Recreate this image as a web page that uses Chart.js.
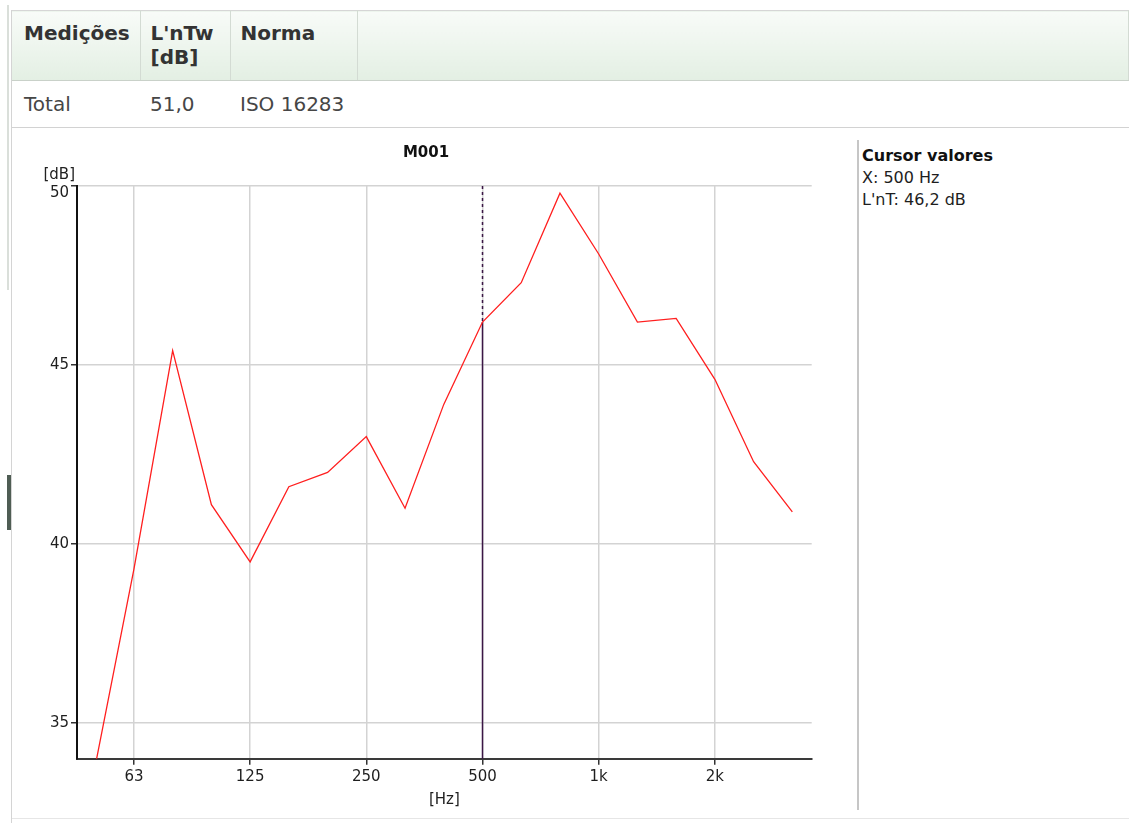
<!DOCTYPE html>
<html>
<head>
<meta charset="utf-8">
<title>M001</title>
<script src="https://cdn.jsdelivr.net/npm/chart.js@4/dist/chart.umd.min.js"></script>
<style>
  html, body { margin: 0; padding: 0; background: #fff; width: 1129px; height: 823px; overflow: hidden;
               font-family: "DejaVu Sans", Verdana, sans-serif; }
  .splitter { position: absolute; left: 7px; top: 5px; width: 2px; height: 285px; background: #dadfda; }
  .grip { position: absolute; left: 7px; top: 475px; width: 4px; height: 55px; background: #4f5d54; }
  .frame { position: absolute; left: 11px; top: 10px; width: 1px; height: 813px; background: #d4d4d4; }
  .bottom-rule { position: absolute; left: 12px; top: 818px; width: 1117px; height: 1px; background: #e6e6e6; }
  table { position: absolute; left: 12px; top: 10px; width: 1117px; border-collapse: collapse; table-layout: fixed; }
  th, td { text-align: left; vertical-align: top; font-size: 20px; line-height: 24px; padding: 0 0 0 10px; white-space: nowrap; }
  th { height: 59px; padding-top: 10px; font-weight: bold; color: #333;
       background: linear-gradient(#f8fbf8, #e3efe3); border-top: 1px solid #d6d6d6; border-bottom: 1px solid #c9d1c9;
       border-right: 1px solid #d3dbd3; }
  td { height: 35px; padding-top: 11px; color: #464646; border-bottom: 1px solid #d2d2d2; }
  th:first-child, td:first-child { padding-left: 12px; }
  .panel-rule { position: absolute; left: 857px; top: 140px; width: 2px; height: 670px; background: #c6c6c6; }
  .panel { position: absolute; left: 862px; top: 145px; font-size: 16px; line-height: 22px; color: #1e1e1e; }
  .panel b { font-weight: bold; color: #111; }
  #wrap { position: absolute; left: 12px; top: 128px; width: 828px; height: 690px; }
</style>
</head>
<body>
<div class="splitter"></div>
<div class="grip"></div>
<div class="frame"></div>
<table>
  <colgroup><col style="width:128px"><col style="width:90px"><col style="width:127px"><col></colgroup>
  <tr><th>Medições</th><th>L'nTw<br>[dB]</th><th>Norma</th><th></th></tr>
  <tr><td>Total</td><td>51,0</td><td>ISO 16283</td><td></td></tr>
</table>
<div id="wrap"><canvas id="chart" width="828" height="690"></canvas></div>
<div class="panel-rule"></div>
<div class="panel" id="panel"></div>
<div class="bottom-rule"></div>

<script>
// Third-octave band centre frequencies [Hz]
const bands = [50, 63, 80, 100, 125, 160, 200, 250, 315, 400, 500, 630, 800, 1000, 1250, 1600, 2000, 2500, 3150];
// L'nT per band [dB]
const lnT = [33.8, 39.3, 45.4, 41.1, 39.5, 41.6, 42.0, 43.0, 41.0, 43.9, 46.2, 47.3, 49.8, 48.1, 46.2, 46.3, 44.6, 42.3, 40.9];
// Frequency axis ticks (octave centres) and their labels
const tickFreqs = [63, 125, 250, 500, 1000, 2000];
const tickLabels = ['63', '125', '250', '500', '1k', '2k'];
// Level axis ticks
const yTicks = [35, 40, 45, 50];
// Cursor position
const cursorFreq = 500;

const FONT = '"DejaVu Sans", Verdana, sans-serif';
Chart.defaults.font.family = FONT;

const cursorIdx = bands.indexOf(cursorFreq);
document.getElementById('panel').innerHTML =
  '<b>Cursor valores</b><br>X: ' + cursorFreq + ' Hz<br>L\'nT: ' +
  lnT[cursorIdx].toFixed(1).replace('.', ',') + ' dB';

// Cursor line (dashed above the curve, solid below) and the level-axis unit
const overlay = {
  id: 'overlay',
  beforeDatasetsDraw(chart) {
    const { ctx, chartArea: a, scales: { x, y } } = chart;
    const px = Math.round(x.getPixelForValue(cursorIdx)) + 0.5;
    const py = y.getPixelForValue(lnT[cursorIdx]);
    ctx.save();
    ctx.strokeStyle = '#3b1746';
    ctx.lineWidth = 1.5;
    ctx.setLineDash([3, 3]);
    ctx.beginPath(); ctx.moveTo(px, a.top); ctx.lineTo(px, py); ctx.stroke();
    ctx.setLineDash([]);
    ctx.beginPath(); ctx.moveTo(px, py); ctx.lineTo(px, a.bottom); ctx.stroke();
    ctx.restore();
  },
  afterDraw(chart) {
    const { ctx, chartArea: a, scales: { y } } = chart;
    ctx.save();
    ctx.font = '15px ' + FONT;
    ctx.fillStyle = '#222';
    ctx.textAlign = 'right';
    ctx.textBaseline = 'middle';
    ctx.fillText('[dB]', y.right - 2, a.top - 11);
    ctx.restore();
  }
};

new Chart(document.getElementById('chart'), {
  type: 'line',
  data: {
    datasets: [{
      label: "L'nT",
      data: bands.map((f, i) => ({ x: i, y: lnT[i] })),
      borderColor: '#ff1f1f',
      borderWidth: 1.3,
      pointRadius: 0,
      tension: 0,
      fill: false
    }]
  },
  options: {
    responsive: false,
    animation: false,
    events: [],
    layout: { padding: { top: 0, left: 28.3, right: 28.3, bottom: 0 } },
    plugins: {
      legend: { display: false },
      tooltip: { enabled: false },
      title: {
        display: true, text: 'M001', color: '#111',
        font: { size: 15, weight: 'bold', family: FONT },
        padding: { top: 16, bottom: 24 }
      }
    },
    scales: {
      x: {
        type: 'linear',
        min: -0.47,
        max: 18.5,
        afterBuildTicks: s => { s.ticks = tickFreqs.map(f => ({ value: bands.indexOf(f) })); },
        afterFit: s => { s.height = 59.2; },
        ticks: {
          autoSkip: false, maxRotation: 0, padding: 3, color: '#1e1e1e',
          font: { size: 15, family: FONT },
          callback: v => tickLabels[tickFreqs.indexOf(bands[v])]
        },
        grid: { color: '#d3d3d3', lineWidth: 1.5, tickColor: '#333', tickLength: 6, tickWidth: 1.5 },
        border: { color: '#3a3a3a', width: 2 },
        title: { display: true, text: '[Hz]', color: '#1e1e1e', font: { size: 15, family: FONT },
                 padding: { top: 0, bottom: 9 } }
      },
      y: {
        min: 34,
        max: 50,
        afterBuildTicks: s => { s.ticks = yTicks.map(v => ({ value: v })); },
        afterFit: s => { s.width = 36.7; },
        ticks: {
          autoSkip: false, padding: 2, color: '#1e1e1e',
          font: { size: 15, family: FONT, lineHeight: 1.0 },
          // top label sits just below the axis end
          callback: v => v === yTicks[yTicks.length - 1] ? ['', String(v)] : String(v)
        },
        grid: { color: '#d3d3d3', lineWidth: 1.5, tickColor: '#333', tickLength: 6, tickWidth: 1.5 },
        border: { color: '#111', width: 2 }
      }
    }
  },
  plugins: [overlay]
});
</script>
</body>
</html>
